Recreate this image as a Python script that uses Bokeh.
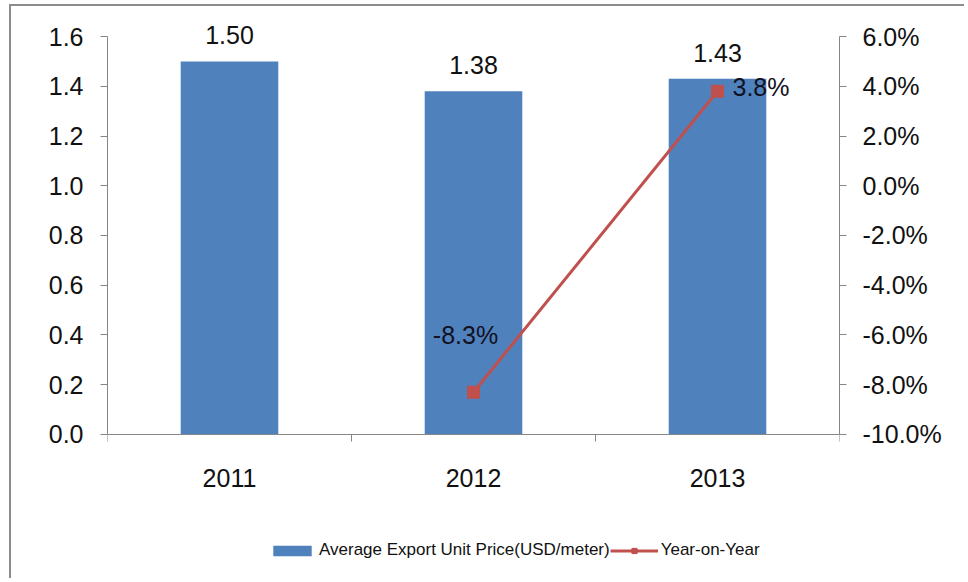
from bokeh.plotting import figure
from bokeh.models import (ColumnDataSource, Range1d, LinearAxis,
                          FixedTicker, PrintfTickFormatter, LabelSet, Legend, LegendItem)
from bokeh.core.properties import value
from bokeh.embed import file_html
from bokeh.resources import INLINE

# ---- data ----
years = ["2011", "2012", "2013"]
prices = [1.50, 1.38, 1.43]
yoy_years = ["2012", "2013"]
yoy = [-8.3, 3.8]
left_ticks = [0.0, 0.2, 0.4, 0.6, 0.8, 1.0, 1.2, 1.4, 1.6]
right_ticks = [-10, -8, -6, -4, -2, 0, 2, 4, 6]
bar_label = "Average Export Unit Price(USD/meter)"
line_label = "Year-on-Year"

# ---- styles ----
FONT = "Liberation Sans"
BAR_COLOR = "#4F81BD"
LINE_COLOR = "#C0504D"
AXIS_COLOR = "#868686"
TEXT_COLOR = "#111111"
yoy_label_dx = [-8, 15]
yoy_label_dy = [57, 4]
yoy_label_align = ["center", "left"]
# extra room (in axis units) above/below the axes so labels & legend are inside the frame
PAD_TOP_L, PAD_BOT_L = 0.0965, 0.5307
PAD_TOP_R, PAD_BOT_R = 0.965, 5.307

# category slot positions (band centers) on a numeric axis
pos = {y: i + 0.5 for i, y in enumerate(years)}
bar_x = [pos[y] for y in years]
yoy_x = [pos[y] for y in yoy_years]

p = figure(width=955, height=574, x_range=Range1d(0, len(years)),
           y_range=Range1d(left_ticks[0] - PAD_BOT_L, left_ticks[-1] + PAD_TOP_L),
           output_backend="svg", toolbar_location=None, x_axis_location=None, y_axis_location=None,
           min_border_left=96, min_border_right=127, min_border_top=6, min_border_bottom=14)
p.styles = {"margin-left": "9px", "margin-top": "4px",
            "border-left": "2px solid #8c8c8c", "border-top": "2px solid #8c8c8c"}
p.outline_line_color = None
p.xgrid.visible = False
p.ygrid.visible = False
p.extra_y_ranges = {"pct": Range1d(right_ticks[0] - PAD_BOT_R, right_ticks[-1] + PAD_TOP_R)}

def style_axis(ax):
    ax.axis_line_color = AXIS_COLOR
    ax.major_tick_line_color = AXIS_COLOR
    ax.minor_tick_line_color = None
    ax.major_tick_in = 0
    ax.major_tick_out = 7
    ax.major_label_text_font = FONT
    ax.major_label_text_font_size = "25px"
    ax.major_label_text_color = TEXT_COLOR

# x axis: ticks at category boundaries, drawn at y = 0
xa = LinearAxis(ticker=FixedTicker(ticks=list(range(len(years) + 1))), fixed_location=0)
style_axis(xa)
xa.major_label_text_font_size = "1px"
xa.major_label_text_alpha = 0
xa.major_label_standoff = 0
p.add_layout(xa, "below")

yl = LinearAxis(ticker=FixedTicker(ticks=left_ticks), formatter=PrintfTickFormatter(format="%.1f"),
                bounds=(left_ticks[0], left_ticks[-1]))
style_axis(yl)
yl.major_label_standoff = 17
p.add_layout(yl, "left")

yr = LinearAxis(y_range_name="pct", ticker=FixedTicker(ticks=right_ticks),
                formatter=PrintfTickFormatter(format="%.1f%%"), bounds=(right_ticks[0], right_ticks[-1]))
style_axis(yr)
yr.major_label_standoff = 16
p.add_layout(yr, "right")

bar_src = ColumnDataSource(dict(x=bar_x, top=prices, base=[0.0] * len(years),
                                label=[f"{v:.2f}" for v in prices], year=years))
bars = p.vbar(x="x", top="top", bottom="base", width=0.4, source=bar_src,
              fill_color=BAR_COLOR, line_color=None)

line_src = ColumnDataSource(dict(x=yoy_x, y=yoy, label=[f"{v:.1f}%" for v in yoy],
                                 dx=yoy_label_dx, dy=yoy_label_dy, align=yoy_label_align))
ln = p.line(x="x", y="y", source=line_src, y_range_name="pct", line_color=LINE_COLOR, line_width=3)
mk = p.scatter(x="x", y="y", source=line_src, y_range_name="pct", marker="square", size=12,
               fill_color=LINE_COLOR, line_color=LINE_COLOR)

# category (year) labels under the axis
p.add_layout(LabelSet(x="x", y="base", text="year", source=bar_src, text_align="center",
                      text_baseline="middle", y_offset=-44, text_font=value(FONT),
                      text_font_size="25px", text_color=TEXT_COLOR))
# value labels
p.add_layout(LabelSet(x="x", y="top", text="label", source=bar_src, text_align="center",
                      text_baseline="middle", y_offset=26, text_font=value(FONT),
                      text_font_size="25px", text_color=TEXT_COLOR))
p.add_layout(LabelSet(x="x", y="y", text="label", source=line_src, y_range_name="pct",
                      text_align="align", text_baseline="middle", x_offset="dx", y_offset="dy",
                      text_font=value(FONT), text_font_size="25px", text_color="#111122"))

legend = Legend(items=[LegendItem(label=bar_label, renderers=[bars]),
                       LegendItem(label=line_label, renderers=[ln, mk])],
                orientation="horizontal", location=(161, 6), glyph_width=48, glyph_height=13,
                label_standoff=3, spacing=0, padding=4, margin=0,
                label_text_font=FONT, label_text_font_size="17px", label_text_color=TEXT_COLOR,
                background_fill_alpha=0, border_line_color=None)
p.add_layout(legend, "center")

open("out.html", "w").write(file_html(p, INLINE))
